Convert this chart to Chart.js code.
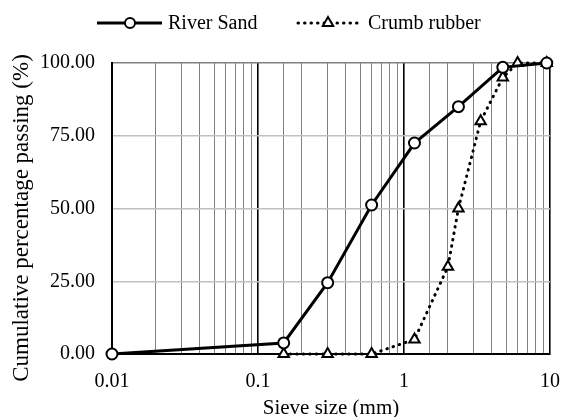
<!DOCTYPE html>
<html>
<head>
<meta charset="utf-8">
<script src="https://cdn.jsdelivr.net/npm/chart.js@4"></script>
<style>
html,body{margin:0;padding:0;background:#fff;}
#wrap{width:561px;height:417px;}
</style>
</head>
<body>
<div id="wrap"><canvas id="c" width="561" height="417"></canvas></div>
<script>
const seriesNames = ['River Sand', 'Crumb rubber'];
const sandSizes = [0.01, 0.15, 0.3, 0.6, 1.18, 2.36, 4.75, 9.5];
const sandPassing = [0, 3.8, 24.5, 51.2, 72.5, 85.0, 98.5, 100];
const rubberSizes = [0.15, 0.3, 0.6, 1.18, 2.0, 2.36, 3.35, 4.75, 6.0, 9.5];
const rubberPassing = [0, 0, 0, 5, 30, 50, 80, 95, 100, 100];
const xTickValues = [0.01, 0.1, 1, 10];
const xTickLabels = ['0.01', '0.1', '1', '10'];
const yTickValues = [0, 25, 50, 75, 100];
const xTitle = 'Sieve size (mm)';
const yTitle = 'Cumulative percentage passing (%)';

const FONT = "'Liberation Serif', 'Times New Roman', serif";

function toPoints(xs, ys) { return xs.map((x, i) => ({x: x, y: ys[i]})); }
function isMajor(v) {
  const l = Math.log10(v);
  return Math.abs(l - Math.round(l)) < 1e-9;
}
function majorLabel(v) {
  for (let i = 0; i < xTickValues.length; i++) {
    if (Math.abs(xTickValues[i] - v) / xTickValues[i] < 1e-9) return xTickLabels[i];
  }
  return '';
}

const legendPlugin = {
  id: 'lineLegend',
  afterDraw(chart) {
    const ctx = chart.ctx;
    const area = chart.chartArea;
    const y = 23;
    ctx.save();
    ctx.strokeStyle = '#000';
    ctx.lineWidth = 3;
    ctx.setLineDash([]);
    ctx.beginPath(); ctx.moveTo(97, y); ctx.lineTo(162, y); ctx.stroke();
    ctx.fillStyle = '#fff';
    ctx.lineWidth = 2;
    ctx.beginPath(); ctx.arc(130, y, 5, 0, Math.PI * 2); ctx.fill(); ctx.stroke();
    ctx.lineWidth = 3;
    ctx.lineCap = 'round';
    ctx.setLineDash([0.5, 6]);
    ctx.beginPath(); ctx.moveTo(298, y); ctx.lineTo(362, y); ctx.stroke();
    ctx.setLineDash([]);
    ctx.lineCap = 'butt';
    ctx.lineWidth = 2;
    ctx.fillStyle = '#fff';
    const r = 6;
    ctx.beginPath();
    ctx.moveTo(328, y - r);
    ctx.lineTo(328 + r * 0.866, y + r * 0.5);
    ctx.lineTo(328 - r * 0.866, y + r * 0.5);
    ctx.closePath(); ctx.fill(); ctx.stroke();
    ctx.fillStyle = '#000';
    ctx.font = '20px ' + FONT;
    ctx.textBaseline = 'middle';
    ctx.textAlign = 'left';
    ctx.fillText(seriesNames[0], 168, y + 1);
    ctx.fillText(seriesNames[1], 368, y + 1);
    // axis titles
    ctx.textBaseline = 'alphabetic';
    ctx.textAlign = 'center';
    ctx.font = '21px ' + FONT;
    ctx.fillText(xTitle, (area.left + area.right) / 2, 414);
    ctx.save();
    ctx.translate(28, 218);
    ctx.rotate(-Math.PI / 2);
    ctx.font = '23px ' + FONT;
    ctx.fillText(yTitle, 0, 0);
    ctx.restore();
    ctx.restore();
  }
};

new Chart(document.getElementById('c'), {
  type: 'line',
  data: {
    datasets: [
      {
        label: seriesNames[0],
        data: toPoints(sandSizes, sandPassing),
        borderColor: '#000',
        borderWidth: 3,
        pointStyle: 'circle',
        pointRadius: 5.5,
        pointBorderWidth: 2,
        pointBackgroundColor: '#fff',
        pointBorderColor: '#000',
        tension: 0,
        clip: false
      },
      {
        label: seriesNames[1],
        data: toPoints(rubberSizes, rubberPassing),
        borderColor: '#000',
        borderWidth: 3,
        borderDash: [0.5, 6],
        borderCapStyle: 'round',
        pointStyle: 'triangle',
        pointRadius: 6,
        pointBorderWidth: 2,
        pointBackgroundColor: '#fff',
        pointBorderColor: '#000',
        tension: 0,
        clip: false
      }
    ]
  },
  options: {
    responsive: false,
    animation: false,
    layout: {padding: {top: 63, right: 11, left: 0, bottom: 0}},
    plugins: {legend: {display: false}, tooltip: {enabled: false}},
    scales: {
      x: {
        type: 'logarithmic',
        min: 0.01,
        max: 10,
        border: {color: '#000', width: 2},
        grid: {
          drawTicks: false,
          color: ctx => (ctx.tick && isMajor(ctx.tick.value)) ? '#000' : '#808080',
          lineWidth: ctx => (ctx.tick && isMajor(ctx.tick.value)) ? 1.6 : 1
        },
        ticks: {
          autoSkip: false,
          maxRotation: 0,
          padding: 16,
          color: '#000',
          font: {family: FONT, size: 20},
          callback: v => majorLabel(v)
        },
        title: {display: false},
        afterFit: s => { s.height = 63; s.paddingLeft = 0; s.paddingRight = 0; }
      },
      y: {
        min: 0,
        max: 100,
        border: {color: '#000', width: 2},
        afterBuildTicks: s => { s.ticks = yTickValues.map(v => ({value: v})); },
        grid: {
          drawTicks: false,
          color: ctx => (ctx.tick && ctx.tick.value === 100) ? '#808080' : '#c0c0c0',
          lineWidth: 1.5
        },
        ticks: {
          padding: 17,
          color: '#000',
          font: {family: FONT, size: 20},
          callback: v => Number(v).toFixed(2)
        },
        title: {display: false},
        afterFit: s => { s.width = 112; s.paddingTop = 0; s.paddingBottom = 0; }
      }
    }
  },
  plugins: [legendPlugin]
});
</script>
</body>
</html>
